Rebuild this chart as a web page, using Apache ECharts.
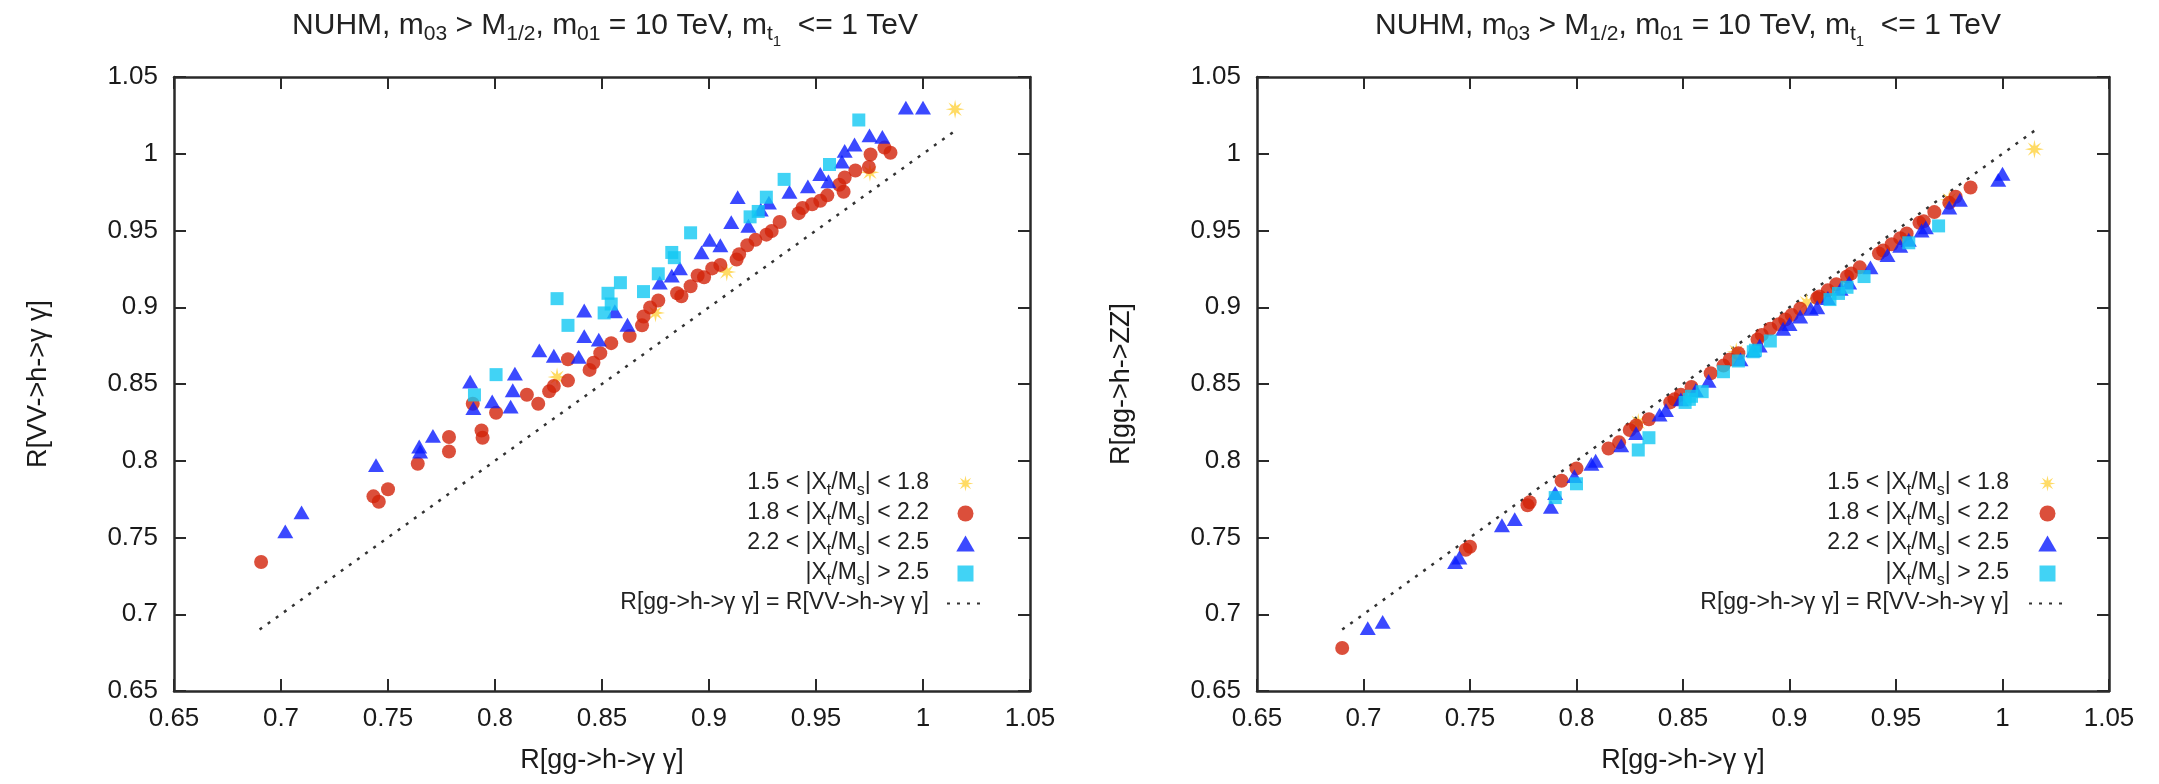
<!DOCTYPE html>
<html>
<head>
<meta charset="utf-8">
<script src="https://cdn.jsdelivr.net/npm/echarts@6/dist/echarts.min.js"></script>
<style>html,body{margin:0;padding:0;background:#fff}#c{width:2159px;height:784px}</style>
</head>
<body>
<div id="c"></div>
<script>
// ---------------- DATA ----------------
const axisTicks = [0.65, 0.7, 0.75, 0.8, 0.85, 0.9, 0.95, 1, 1.05];
const seriesNames = ['1.5 < |Xt/Ms| < 1.8', '1.8 < |Xt/Ms| < 2.2', '2.2 < |Xt/Ms| < 2.5', '|Xt/Ms| > 2.5', 'R[gg->h->γ γ] = R[VV->h->γ γ]'];
const titleText = 'NUHM, m03 > M1/2, m01 = 10 TeV, mt1  <= 1 TeV';
const xName = 'R[gg->h->γ γ]';
const yNameLeft = 'R[VV->h->γ γ]';
const yNameRight = 'R[gg->h->ZZ]';

// Left panel: R[gg->h->γγ] vs R[VV->h->γγ]
const leftStar = [[0.829,0.8545],[0.875,0.8963],[0.9083,0.923],[0.9752,0.9879],[1.015,1.029]];
const leftCircle = [[0.6907,0.734],[0.7432,0.7768],[0.7457,0.7733],[0.75,0.7814],[0.7639,0.798],[0.7785,0.8155],[0.7785,0.806],
 [0.7937,0.8197],[0.7942,0.815],[0.7896,0.8371],[0.8005,0.8313],[0.8149,0.843],[0.8202,0.8371],[0.8253,0.8452],[0.8275,0.8487],
 [0.8341,0.8522],[0.8341,0.8661],[0.8442,0.8592],[0.846,0.8638],[0.8492,0.8701],[0.8543,0.8766],[0.8629,0.8812],[0.8687,0.8882],
 [0.8694,0.894],[0.8725,0.8998],[0.8763,0.9044],[0.8851,0.9091],[0.8871,0.9072],[0.8914,0.9137],[0.8947,0.9207],[0.8977,0.9195],
 [0.9015,0.9253],[0.9053,0.9276],[0.9129,0.9311],[0.9141,0.9346],[0.9179,0.9404],[0.9217,0.9439],[0.9268,0.9473],[0.9293,0.9497],
 [0.933,0.9555],[0.9419,0.9613],[0.9437,0.9647],[0.9482,0.9671],[0.952,0.9694],[0.9553,0.9729],[0.9609,0.9798],[0.9629,0.9752],
 [0.9634,0.9845],[0.9684,0.9891],[0.9747,0.9914],[0.9755,0.9995],[0.9848,1.0007],[0.982,1.004]];
const leftTriangle = [[0.702,0.754],[0.7096,0.7664],[0.7444,0.7972],[0.7646,0.8093],[0.765,0.806],[0.771,0.8162],[0.7884,0.8515],
 [0.7899,0.8343],[0.7987,0.8387],[0.8073,0.8353],[0.8093,0.8568],[0.8083,0.8459],[0.8207,0.8719],[0.8275,0.8684],[0.8391,0.8677],
 [0.8417,0.8979],[0.8417,0.8812],[0.8485,0.8789],[0.856,0.8974],[0.8619,0.8886],[0.877,0.916],[0.8826,0.9206],[0.8864,0.9253],
 [0.8965,0.9357],[0.9003,0.9439],[0.9053,0.9404],[0.9104,0.9555],[0.9134,0.9717],[0.9184,0.9531],[0.9242,0.9636],[0.928,0.9682],
 [0.9376,0.9752],[0.9462,0.9787],[0.952,0.9868],[0.9558,0.9821],[0.9621,0.9949],[0.9634,1.0019],[0.968,1.006],[0.975,1.012],
 [0.981,1.011],[0.992,1.03],[1.0,1.03]];
const leftSquare = [[0.7904,0.8429],[0.8005,0.8561],[0.829,0.9056],[0.8341,0.8882],[0.851,0.8963],[0.8528,0.9091],[0.8586,0.916],
 [0.8543,0.9021],[0.8694,0.9102],[0.8763,0.9218],[0.8826,0.9357],[0.8838,0.9323],[0.8914,0.9485],[0.9192,0.9589],[0.923,0.9624],
 [0.9268,0.9717],[0.9351,0.9833],[0.9563,0.993],[0.97,1.022]];
const leftDiag = [[0.69,0.69],[1.015,1.015]];

// Right panel: R[gg->h->γγ] vs R[gg->h->ZZ]
const rightStar = [[0.829,0.825],[0.875,0.871],[0.908,0.903],[0.975,0.97],[1.015,1.003]];
const rightCircle = [[0.69,0.678],[0.748,0.742],[0.75,0.744],[0.777,0.771],[0.778,0.773],[0.793,0.787],[0.8,0.795],[0.815,0.808],
 [0.82,0.812],[0.825,0.82],[0.828,0.823],[0.834,0.827],[0.844,0.838],[0.846,0.84],[0.849,0.843],[0.854,0.848],[0.863,0.857],
 [0.869,0.862],[0.872,0.866],[0.876,0.87],[0.885,0.879],[0.887,0.882],[0.891,0.886],[0.895,0.889],[0.898,0.892],[0.901,0.895],
 [0.905,0.899],[0.913,0.906],[0.914,0.907],[0.918,0.911],[0.922,0.915],[0.927,0.92],[0.929,0.922],[0.933,0.926],[0.942,0.935],
 [0.944,0.937],[0.948,0.941],[0.952,0.945],[0.955,0.948],[0.961,0.955],[0.963,0.956],[0.968,0.962],[0.975,0.968],[0.978,0.972],[0.985,0.978]];
const rightTriangle = [[0.702,0.691],[0.709,0.695],[0.743,0.734],[0.745,0.737],[0.765,0.758],[0.771,0.762],[0.788,0.77],[0.79,0.779],
 [0.799,0.79],[0.807,0.798],[0.809,0.8],[0.821,0.81],[0.828,0.818],[0.839,0.83],[0.842,0.833],[0.849,0.84],[0.856,0.846],[0.862,0.852],
 [0.877,0.866],[0.883,0.872],[0.886,0.875],[0.897,0.886],[0.9,0.889],[0.905,0.894],[0.91,0.899],[0.913,0.9],[0.918,0.906],[0.924,0.912],
 [0.928,0.916],[0.938,0.926],[0.946,0.934],[0.952,0.94],[0.956,0.944],[0.962,0.95],[0.964,0.952],[0.975,0.965],[0.98,0.97],[0.998,0.983],[1.0,0.987]];
const rightSquare = [[0.79,0.776],[0.8,0.785],[0.829,0.807],[0.834,0.815],[0.851,0.838],[0.853,0.84],[0.859,0.845],[0.854,0.842],
 [0.869,0.858],[0.876,0.865],[0.883,0.871],[0.884,0.872],[0.891,0.878],[0.919,0.905],[0.923,0.909],[0.927,0.913],[0.935,0.92],[0.956,0.942],[0.97,0.953]];
const rightDiag = [[0.69,0.69],[1.015,1.015]];

// ---------------- STYLE ----------------
const FONT = "'Liberation Sans', Arial, Helvetica, sans-serif";
const COL = {star:'#ffd23f', circle:'#d2230a', tri:'#0a1cff', sq:'#12c8f2', line:'#333333'};
function starPath(){
  const n=8, R=10, r=3.6; let d='';
  for(let i=0;i<2*n;i++){const a=Math.PI*i/n - Math.PI/2; const rr=i%2?r:R;
    d += (i?'L':'M') + (rr*Math.cos(a)).toFixed(2)+','+(rr*Math.sin(a)).toFixed(2);}
  return 'path://'+d+'Z';
}
const STAR = starPath();
const TRI_PATH = 'path://M0,-10L10,7.3L-10,7.3Z';
const SQ_PATH = 'path://M-10,-10L10,-10L10,10L-10,10Z';
const CIRC_PATH = 'circle';

const richLegend = {
  n:{fontSize:23, lineHeight:25, verticalAlign:'top', fontFamily:FONT, color:'#222', fontWeight:'normal'},
  s:{fontSize:16, lineHeight:16, padding:[12,0,0,0], verticalAlign:'top', fontFamily:FONT, color:'#222', fontWeight:'normal'}
};
const legendLabel = {};
legendLabel[seriesNames[0]] = '{n|1.5 < |X}{s|t}{n|/M}{s|s}{n|| < 1.8}';
legendLabel[seriesNames[1]] = '{n|1.8 < |X}{s|t}{n|/M}{s|s}{n|| < 2.2}';
legendLabel[seriesNames[2]] = '{n|2.2 < |X}{s|t}{n|/M}{s|s}{n|| < 2.5}';
legendLabel[seriesNames[3]] = '{n||X}{s|t}{n|/M}{s|s}{n|| > 2.5}';
legendLabel[seriesNames[4]] = '{n|' + seriesNames[4] + '}';

const richTitle = {
  n:{fontSize:30, lineHeight:32, verticalAlign:'top', fontFamily:FONT, color:'#222', fontWeight:'normal'},
  s:{fontSize:21, lineHeight:21, padding:[13,0,0,0], verticalAlign:'top', fontFamily:FONT, color:'#222', fontWeight:'normal'},
  ss:{fontSize:15, lineHeight:15, padding:[23,0,0,0], verticalAlign:'top', fontFamily:FONT, color:'#222', fontWeight:'normal'}
};
const titleRich = '{n|NUHM, m}{s|03}{n| > M}{s|1/2}{n|, m}{s|01}{n| = 10 TeV, m}{s|t}{ss|1}{n|  <= 1 TeV}';

const grids = [
  {left:174, top:77, width:856, height:614, outerBoundsMode:'none', containLabel:false},
  {left:1257, top:77, width:852, height:614, outerBoundsMode:'none', containLabel:false}
];
const AX_LINE = {show:true, onZero:false, lineStyle:{color:'#2a2a2a', width:2.5}};
function valAxis(gridIndex, position, showLabel, name, nameGap){
  const isX = position==='bottom'||position==='top';
  const a = {
    type:'value', gridIndex, position, min:axisTicks[0], max:axisTicks[axisTicks.length-1], interval:0.05,
    axisLine:AX_LINE, splitLine:{show:false},
    axisTick:{show:true, inside:true, length:12, lineStyle:{color:'#2a2a2a', width:2}},
    axisLabel:{show:showLabel, fontSize:26, fontFamily:FONT, color:'#1a1a1a', margin:isX?15:16,
      formatter: v => String(+v.toFixed(2))}
  };
  if(name){ a.name=name; a.nameLocation='middle'; a.nameGap=nameGap;
    a.nameTextStyle={fontSize:27, fontFamily:FONT, color:'#1a1a1a'}; }
  return a;
}
const xAxes = [valAxis(0,'bottom',true,xName,56), valAxis(0,'top',false), valAxis(1,'bottom',true,xName,56), valAxis(1,'top',false)];
const yAxes = [valAxis(0,'left',true,yNameLeft,122), valAxis(0,'right',false), valAxis(1,'left',true,yNameRight,122), valAxis(1,'right',false)];

function panelSeries(xi, yi, star, circ, tri, sq, diag){
  return [
    {name:seriesNames[0], type:'scatter', xAxisIndex:xi, yAxisIndex:yi, data:star, symbol:STAR, symbolSize:19, symbolKeepAspect:true, itemStyle:{color:COL.star}, z:3},
    {name:seriesNames[1], type:'scatter', xAxisIndex:xi, yAxisIndex:yi, data:circ, symbol:'circle', symbolSize:14, itemStyle:{color:COL.circle}, z:4},
    {name:seriesNames[2], type:'scatter', xAxisIndex:xi, yAxisIndex:yi, data:tri, symbol:TRI_PATH, symbolSize:16, symbolKeepAspect:true, itemStyle:{color:COL.tri}, z:5},
    {name:seriesNames[3], type:'scatter', xAxisIndex:xi, yAxisIndex:yi, data:sq, symbol:SQ_PATH, symbolSize:13, symbolKeepAspect:true, itemStyle:{color:COL.sq}, z:6},
    {name:seriesNames[4], type:'line', xAxisIndex:xi, yAxisIndex:yi, data:diag, symbol:'none', showSymbol:false,
      itemStyle:{color:'rgba(0,0,0,0)'},
      lineStyle:{color:COL.line, width:2.5, type:[3,7]}, z:2, silent:true}
  ];
}
const series = [].concat(
  panelSeries(0,0,leftStar,leftCircle,leftTriangle,leftSquare,leftDiag),
  panelSeries(2,2,rightStar,rightCircle,rightTriangle,rightSquare,rightDiag)
);

const legendIcons = [STAR, CIRC_PATH, TRI_PATH, SQ_PATH, null];
function legend(rightPx, padRight){
  return {
    orient:'vertical', align:'right', right:rightPx, top:466, itemWidth:37, itemHeight:16, itemGap:2,
    symbolKeepAspect:true,
    data:seriesNames.map((n,i)=> legendIcons[i] ? {name:n, icon:legendIcons[i]} : {name:n}),
    formatter: n => legendLabel[n], selectedMode:false,
    textStyle:{rich:richLegend, padding:[0,padRight,0,0]}
  };
}

const chart = echarts.init(document.getElementById('c'), null, {renderer:'canvas'});
chart.setOption({
  backgroundColor:'#fff',
  animation:false,
  title:[
    {text:titleRich, left:600, top:6, textAlign:'center', textStyle:{rich:richTitle, fontWeight:'normal'}},
    {text:titleRich, left:1683, top:6, textAlign:'center', textStyle:{rich:richTitle, fontWeight:'normal'}}
  ],
  grid:grids,
  xAxis:xAxes,
  yAxis:yAxes,
  legend:[legend(1169,13), legend(87,15)],
  series
});
</script>
</body>
</html>
